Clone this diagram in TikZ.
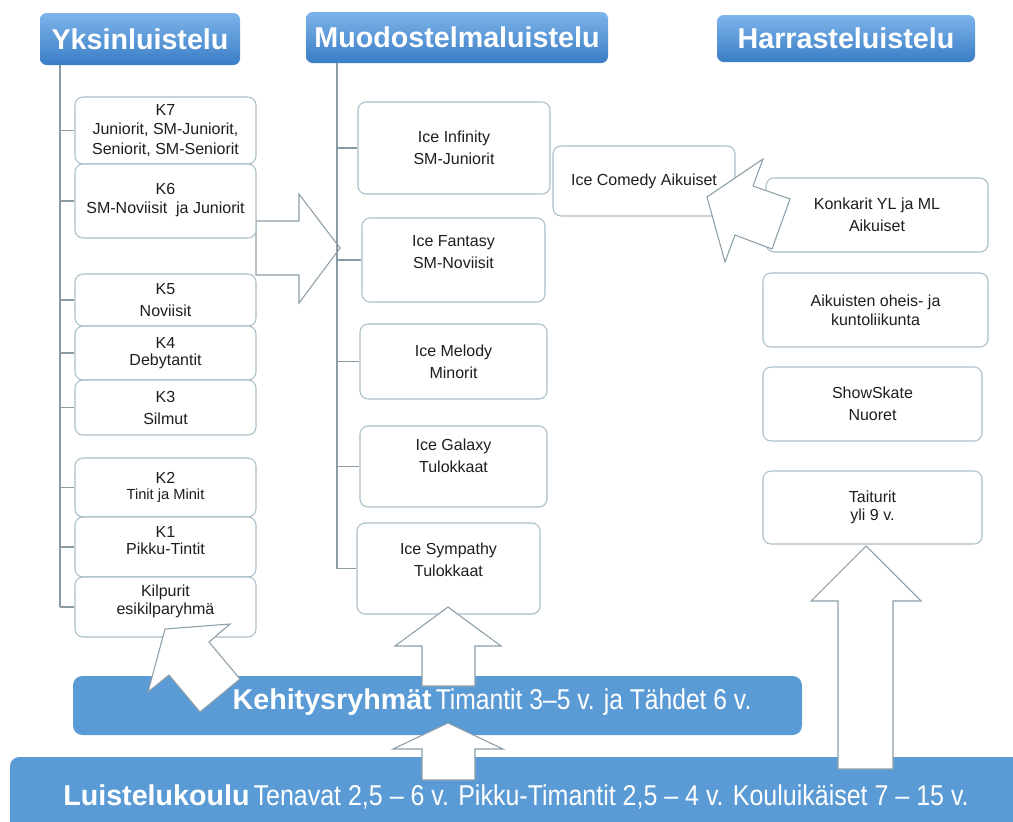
\documentclass[tikz,border=0pt]{standalone}
\usepackage{fontspec}
\setmainfont{Liberation Sans}
\usepackage{graphicx}
\definecolor{hdtop}{HTML}{7DB4EA}
\definecolor{hdbot}{HTML}{3A7DC5}
\definecolor{barblue}{HTML}{5B9BD5}
\definecolor{boxline}{HTML}{A9BFC8}
\definecolor{trunk}{HTML}{8A9BA4}
\definecolor{arrline}{HTML}{8C9FA9}
\definecolor{txtc}{HTML}{1E1E1E}
\begin{document}
\begin{tikzpicture}[x=0.75pt,y=-0.75pt,
  corners/.style n args={4}{at={({(#1+#3)/2},{(#2+#4)/2})}, anchor=center,
     minimum width={(#3-#1)*0.75pt}, minimum height={(#4-#2)*0.75pt}},
  header/.style={rounded corners=5pt, top color=hdtop, bottom color=hdbot, draw=none, text=white,
     font=\fontsize{21.5}{24}\selectfont\bfseries, inner sep=0pt},
  box/.style={draw=boxline, line width=0.8pt, rounded corners=6pt, fill=white, inner sep=0pt,
     align=center, text=txtc, font=\fontsize{12}{16.5}\selectfont},
  tight/.style={font=\fontsize{12}{14.3}\selectfont},
  lift/.style={text depth=#1},
  trunkline/.style={draw=trunk, line width=0.8pt},
  blockarrow/.style={draw=arrline, fill=white, line width=0.8pt, line join=miter},
  bar/.style={fill=barblue, rounded corners=7pt, draw=none, inner sep=0pt},
  bartext/.style={text=white, inner sep=0pt, font=\fontsize{21.5}{24}\selectfont},
]
\useasboundingbox (0,0) rectangle (1013,821);
\clip (0,0) rectangle (1013,821);

% headers
\node[header, corners={40}{13}{240}{65}] (yksin) {Yksinluistelu};
\node[header, corners={306}{12}{608}{63}] (muodo) {Muodostelmaluistelu};
\node[header, corners={717}{15}{975}{62}] (harra) {Harrasteluistelu};

% big arrow K6 -> Muodostelmaluistelu (under trunk line)
\draw[blockarrow] (256,221) -- (299,221) -- (299,194) -- (340,248) -- (299,303) -- (299,275) -- (256,275) -- cycle;

% left column boxes
\node[box, tight, corners={75}{97}{256}{164}, yshift=0pt] (k7) {K7\\Juniorit, SM-Juniorit,\\Seniorit, SM-Seniorit};
\node[box, tight, lift=4pt, corners={75}{164}{256}{238}] (k6) {K6\\SM-Noviisit\ \ ja Juniorit};
\node[box, corners={75}{274}{256}{326}] (k5) {K5\\Noviisit};
\node[box, font=\fontsize{12}{13}\selectfont, lift=2pt, corners={75}{326}{256}{380}] (k4) {K4\\Debytantit};
\node[box, corners={75}{380}{256}{435}] (k3) {K3\\Silmut};
\node[box, font=\fontsize{12}{11.5}\selectfont, corners={75}{458}{256}{517}] (k2) {K2\\{\fontsize{11}{11.5}\selectfont Tinit ja Minit}};
\node[box, font=\fontsize{12}{13}\selectfont, lift=10pt, corners={75}{517}{256}{577}] (k1) {K1\\Pikku-Tintit};
\node[box, font=\fontsize{12}{13.5}\selectfont, lift=11pt, corners={75}{577}{256}{637}] (kilp) {Kilpurit\\esikilparyhmä};

% middle column boxes
\node[box, corners={358}{102}{550}{194}] (inf) {Ice Infinity\\SM-Juniorit};
\node[box, lift=12pt, corners={362}{218}{545}{302}] (fan) {Ice Fantasy\\SM-Noviisit};
\node[box, corners={360}{324}{547}{399}] (mel) {Ice Melody\\Minorit};
\node[box, lift=16pt, corners={360}{426}{547}{507}] (gal) {Ice Galaxy\\Tulokkaat};
\node[box, lift=13pt, corners={357}{523}{540}{614}] (sym) {Ice Sympathy\\Tulokkaat};

% right column boxes
\node[box, corners={553}{146}{735}{216}] (com) {Ice Comedy Aikuiset};
\node[box, corners={766}{178}{988}{252}] (kon) {Konkarit YL ja ML\\Aikuiset};
\node[box, font=\fontsize{12}{14}\selectfont, corners={763}{273}{988}{347}] (aik) {Aikuisten oheis- ja\\kuntoliikunta};
\node[box, corners={763}{367}{982}{441}] (show) {ShowSkate\\Nuoret};
\node[box, font=\fontsize{12}{13.5}\selectfont, corners={763}{471}{982}{544}] (tai) {Taiturit\\yli 9 v.};

% trunk lines
\coordinate (ytr) at (60,65);
\coordinate (mtr) at (337,63);
\draw[trunkline] (ytr) -- (kilp.west -| ytr);
\foreach \b in {k7,k6,k5,k4,k3,k2,k1,kilp}
  \draw[trunkline] (\b.west -| ytr) -- (\b.west);
\draw[trunkline] (mtr) -- (sym.west -| mtr);
\foreach \b in {inf,fan,mel,gal,sym}
  \draw[trunkline] (\b.west -| mtr) -- (\b.west);

% bottom bars
\node[bar, corners={73}{676}{802}{735}] (kehi) {};
\node[bar, corners={10}{757}{1040}{850}] (luist) {};
\node[bartext] (kehitxt) at (492,702) {\textbf{Kehitysryhmät}\hspace{3pt}\scalebox{0.86}[1]{Timantit 3–5 v. ja Tähdet 6 v.}};
\node[bartext] (luisttxt) at (516,797) {\textbf{Luistelukoulu}\hspace{3pt}\scalebox{0.872}[1]{Tenavat 2,5 – 6 v. Pikku-Timantit 2,5 – 4 v. Kouluikäiset 7 – 15 v.}};

% block arrows
\draw[blockarrow] (165,629) -- (230,624) -- (209,642) -- (240,679) -- (200,712) -- (169,675) -- (148,692) -- cycle;
\draw[blockarrow] (448,607) -- (501,646) -- (475,646) -- (475,686) -- (422,686) -- (422,646) -- (395,646) -- cycle;
\draw[blockarrow] (448,723) -- (503,749) -- (475,749) -- (475,780) -- (422,780) -- (422,749) -- (393,749) -- cycle;
\draw[blockarrow] (866,546) -- (921,601) -- (893,601) -- (893,769) -- (838,769) -- (838,601) -- (811,601) -- cycle;
\draw[blockarrow] (707,197) -- (763,159) -- (753,186) -- (790,199) -- (772,249) -- (735,235) -- (725,262) -- cycle;
\end{tikzpicture}
\end{document}
